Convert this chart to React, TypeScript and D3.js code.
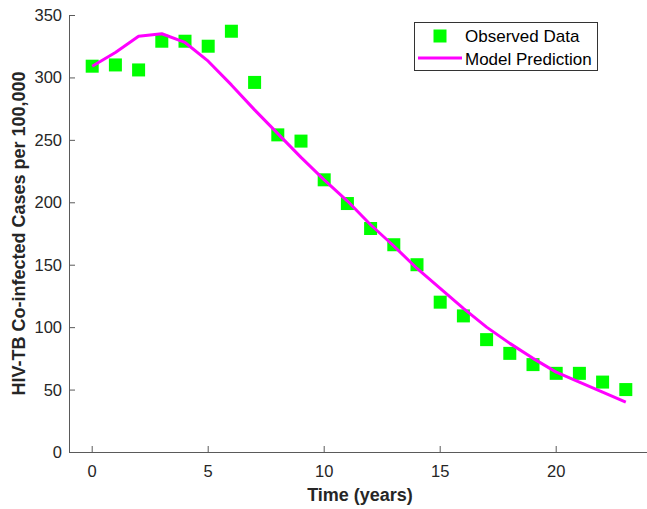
import React from "react";
import * as d3 from "d3";

const years = d3.range(0, 24);
const observed = [309, 310, 306, 329, 329, 325, 337, 296, 254, 249, 218, 199, 179, 166, 150, 120, 109, 90, 79, 70, 63, 63, 56, 50];
const model = [309, 320, 333, 335, 328, 313, 294, 274, 255, 236, 218, 201, 182, 165, 147, 131, 115, 100, 87, 75, 64, 56, 48, 40];
const xTicks = [0, 5, 10, 15, 20];
const yTicks = [0, 50, 100, 150, 200, 250, 300, 350];

const W = 647;
const H = 509;
const left = 69;
const bottom = 452;
const top = 15;

export default function App() {
  const xr = d3.scaleLinear().domain([-1, 24]).range([left, left + 25 * 23.2]);
  const y = d3.scaleLinear().domain([0, 350]).range([bottom, top]);
  const line = d3
    .line<number>()
    .x((_, i) => xr(years[i]))
    .y((d) => y(d));
  const font = "'Liberation Sans', Arial, Helvetica, sans-serif";
  const axisColor = "#5a5a5a";
  const textColor = "#262626";
  const s = 13;
  return (
    <svg width={W} height={H} style={{ position: "absolute", left: 0, top: 0 }} fontFamily={font}>
      <rect x={0} y={0} width={W} height={H} fill="#fff" />
      {/* axes */}
      <line x1={left} x2={W} y1={bottom + 0.5} y2={bottom + 0.5} stroke={axisColor} strokeWidth={1} />
      <line x1={left + 0.5} x2={left + 0.5} y1={top} y2={bottom} stroke={axisColor} strokeWidth={1} />
      {xTicks.map((t) => (
        <g key={"x" + t}>
          <line x1={xr(t)} x2={xr(t)} y1={bottom} y2={bottom - 6} stroke={axisColor} />
          <text x={xr(t)} y={bottom + 25} fontSize={16.5} textAnchor="middle" fill={textColor}>
            {t}
          </text>
        </g>
      ))}
      {yTicks.map((t) => (
        <g key={"y" + t}>
          <line x1={left} x2={left + 6} y1={y(t) + 0.5} y2={y(t) + 0.5} stroke={axisColor} />
          <text x={left - 7} y={y(t) + 6} fontSize={16.5} textAnchor="end" fill={textColor}>
            {t}
          </text>
        </g>
      ))}
      {/* observed */}
      {observed.map((v, i) => (
        <rect key={i} x={xr(years[i]) - s / 2} y={y(v) - s / 2} width={s} height={s} fill="#00ff00" />
      ))}
      {/* model */}
      <path d={line(model) || ""} fill="none" stroke="#ff00ff" strokeWidth={3} strokeLinejoin="round" />
      {/* labels */}
      <text x={360} y={501} fontSize={18} fontWeight="bold" textAnchor="middle" fill={textColor}>
        Time (years)
      </text>
      <text
        transform={`translate(25, ${(top + bottom) / 2}) rotate(-90)`}
        fontSize={18}
        fontWeight="bold"
        textAnchor="middle"
        fill={textColor}
      >
        HIV-TB Co-infected Cases per 100,000
      </text>
      {/* legend */}
      <rect x={414.5} y={22.5} width={183} height={48} fill="#fff" stroke="#333" strokeWidth={1} />
      <rect x={440 - 6.5} y={36 - 6.5} width={13} height={13} fill="#00ff00" />
      <line x1={418} x2={462} y1={58} y2={58} stroke="#ff00ff" strokeWidth={3} />
      <text x={465} y={42} fontSize={17} fill="#000">
        Observed Data
      </text>
      <text x={465} y={65} fontSize={17} fill="#000">
        Model Prediction
      </text>
    </svg>
  );
}
